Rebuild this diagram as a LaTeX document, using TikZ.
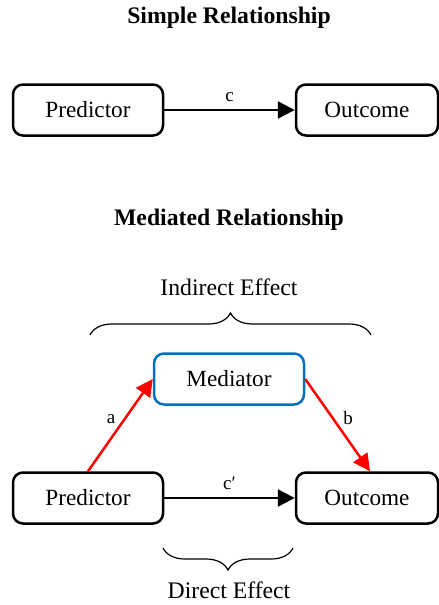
\documentclass[tikz,border=0pt]{standalone}
\usepackage{fontspec}
\setmainfont{Liberation Serif}
\usetikzlibrary{arrows.meta,decorations.pathreplacing}
\definecolor{medblue}{RGB}{0,112,192}
\begin{document}
\begin{tikzpicture}[x=1pt,y=-1pt,
  box/.style={draw,line width=2.5pt,rounded corners=10pt,minimum height=51pt,
    font=\fontsize{23.2}{25}\selectfont,inner sep=0pt},
  conn/.style={line width=2.5pt,-{Triangle[length=17pt,width=17pt]}},
  redconn/.style={conn,red},
  lbl/.style={font=\fontsize{19}{21}\selectfont,inner sep=0pt},
  titletext/.style={font=\fontsize{23.7}{26}\selectfont\bfseries,inner sep=0pt},
  efftext/.style={font=\fontsize{23.7}{26}\selectfont,inner sep=0pt},
  bracestyle/.style={line width=1.2pt,decorate,decoration={brace,amplitude=22pt}}
]
\useasboundingbox (0,0) rectangle (439,605);
\node[titletext] (t1) at (229,18) {Simple Relationship};
\node[box,minimum width=150pt] (p1) at (88,110) {Predictor};
\node[box,minimum width=142pt] (o1) at (367,110) {Outcome};
\draw[conn] (p1) -- node[lbl,above=7pt] (c) {c} (o1);

\node[titletext] (t2) at (229,220) {Mediated Relationship};
\node[efftext] (ie) at (229,287) {Indirect Effect};
\coordinate (ib1) at (90,335);
\coordinate (ib2) at (371,335);
\draw[bracestyle] (ib1) -- (ib2);

\node[box,draw=medblue,minimum width=150pt] (m) at (229,379) {Mediator};
\node[box,minimum width=150pt] (p2) at (88,498) {Predictor};
\node[box,minimum width=142pt] (o2) at (367,498) {Outcome};
\draw[redconn] (p2.north) -- (m.west);
\draw[redconn] (m.east) -- ([xshift=3pt]o2.north);
\node[lbl] (a) at (111,419) {a};
\node[lbl] (b) at (348,418) {b};
\draw[conn] (p2) -- node[lbl,above=7pt] (cp) {c′} (o2);

\coordinate (db1) at (163,548);
\coordinate (db2) at (293,548);
\draw[bracestyle,decoration={brace,mirror,amplitude=22pt}] (db1) -- (db2);
\node[efftext] (de) at (229,590) {Direct Effect};
\end{tikzpicture}
\end{document}
